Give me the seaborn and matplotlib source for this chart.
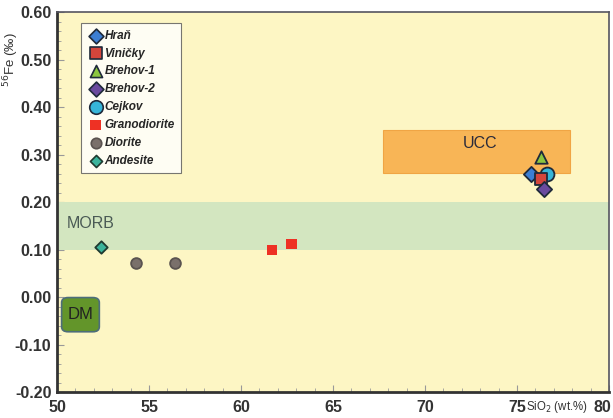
import matplotlib.pyplot as plt
import matplotlib.transforms as mtransforms
import seaborn as sns
import pandas as pd
from matplotlib.patches import FancyBboxPatch, Rectangle
from matplotlib.ticker import MultipleLocator

sns.set_style('ticks')
plt.rcParams['font.family'] = ['Liberation Sans', 'DejaVu Sans']

# sample data
groups = ['Hraň', 'Viničky', 'Brehov-1', 'Brehov-2', 'Cejkov',
          'Granodiorite', 'Granodiorite', 'Diorite', 'Diorite', 'Andesite']
sio2 = [75.76, 76.30, 76.33, 76.48, 76.62, 61.68, 62.73, 54.29, 56.40, 52.37]
fe56 = [0.260, 0.248, 0.294, 0.227, 0.259, 0.099, 0.112, 0.072, 0.072, 0.106]

legend_order = ['Hraň', 'Viničky', 'Brehov-1', 'Brehov-2', 'Cejkov',
                'Granodiorite', 'Diorite', 'Andesite']
colors = ['#3d7fd3', '#d4453b', '#8cc63f', '#6a4a9e', '#36b5d8',
          '#ee3124', '#7a706b', '#3bb39b']
markers = ['D', 's', '^', 'D', 'o', 's', 'o', 'D']
sizes = [60, 80, 80, 60, 100, 60, 60, 40]
edges = ['#1f2a3a', '#1f2a3a', '#1f2a3a', '#1f2a3a', '#1f2a3a',
         'none', '#5a5350', '#1f3a30']

df = pd.DataFrame({'group': groups, 'sio2': sio2, 'fe56': fe56})

fig = plt.figure(figsize=(6.13, 4.18), dpi=100)
ax = fig.add_axes([0.093, 0.062, 0.9005, 0.909])
ax.set_facecolor('#fdf6c4')

# reservoir fields
ax.axhspan(0.10, 0.20, color='#d3e6c0', zorder=1, lw=0)
ax.add_patch(Rectangle((67.7, 0.262), 10.2, 0.090, facecolor='#f8b556',
                       edgecolor='#f0a544', lw=0.8, zorder=2))
ax.add_patch(FancyBboxPatch((50.25, -0.073), 2.05, 0.072,
                            boxstyle='round,pad=0,rounding_size=0.35',
                            mutation_aspect=0.03,
                            facecolor='#63952a', edgecolor='#4d6d7a',
                            lw=1.2, zorder=2))
ax.text(50.55, 0.155, 'MORB', fontsize=11.5, color='#4a5a55', va='center', zorder=3)
ax.text(73.0, 0.323, 'UCC', fontsize=11.5, color='#2a2a3a', ha='center',
        va='center', zorder=3)
ax.text(51.27, -0.037, 'DM', fontsize=12, color='#222222', ha='center',
        va='center', zorder=3)

# draw order so the cluster overlaps like the picture
draw_order = ['Granodiorite', 'Diorite', 'Andesite', 'Cejkov', 'Hraň',
              'Brehov-1', 'Viničky', 'Brehov-2']
for g in draw_order:
    i = legend_order.index(g)
    sub = df[df['group'] == g]
    sns.scatterplot(data=sub, x='sio2', y='fe56', ax=ax, marker=markers[i],
                    s=sizes[i], color=colors[i], edgecolor=edges[i],
                    linewidth=1.3 if edges[i] != 'none' else 0,
                    zorder=5, legend=False)

# legend
handles = []
for i, g in enumerate(legend_order):
    h = ax.scatter([], [], marker=markers[i], s=sizes[i] * 0.95, color=colors[i],
                   edgecolor=edges[i], linewidth=1.2 if edges[i] != 'none' else 0,
                   label=g)
    handles.append(h)
leg = ax.legend(handles=handles, loc='upper left', bbox_to_anchor=(0.043, 0.971),
                borderaxespad=0, frameon=True, fancybox=False, edgecolor='#555555',
                handletextpad=0.05, labelspacing=0.5, borderpad=0.55,
                handlelength=1.4,
                prop={'style': 'italic', 'weight': 'bold', 'size': 8.5})
leg.get_frame().set_linewidth(0.8)
leg.set_zorder(6)

ax.set_xlim(50, 80)
ax.set_ylim(-0.20, 0.60)
yt = [-0.2, -0.1, 0.0, 0.1, 0.2, 0.3, 0.4, 0.5, 0.6]
ax.set_xticks([50, 55, 60, 65, 70, 75, 80])
ax.set_yticks(yt)
ax.set_yticklabels([f'{v:.2f}' for v in yt])
ax.xaxis.set_minor_locator(MultipleLocator(1))
ax.yaxis.set_minor_locator(MultipleLocator(0.02))
ax.tick_params(which='both', direction='in', color='#999999', top=False, right=False)
ax.tick_params(which='major', length=5, labelsize=11.5, labelcolor='#333333', pad=4)
ax.tick_params(axis='x', which='major', pad=6)
ax.tick_params(which='minor', length=3)
for lab in ax.get_xticklabels() + ax.get_yticklabels():
    lab.set_fontweight('bold')
# nudge the last x label left so it stays inside the figure
last = ax.get_xticklabels()[-1]
last.set_transform(last.get_transform() +
                   mtransforms.ScaledTranslation(-5 / 72, 0, fig.dpi_scale_trans))
for s in ['left', 'bottom']:
    ax.spines[s].set_linewidth(2.0)
    ax.spines[s].set_color('#333333')
for s in ['top', 'right']:
    ax.spines[s].set_linewidth(1.2)
    ax.spines[s].set_color('#555560')

ax.set_xlabel('')
ax.set_ylabel('')
ax.text(77.15, -0.232, 'SiO$_2$ (wt.%)', fontsize=8.3, color='#333333',
        ha='center', va='center', clip_on=False)
fig.text(0.018, 0.857, '$^{56}$Fe (‰)', fontsize=9.5, color='#333333',
         rotation=90, ha='center', va='center')

fig.savefig('out.png', dpi=100, facecolor='white')
